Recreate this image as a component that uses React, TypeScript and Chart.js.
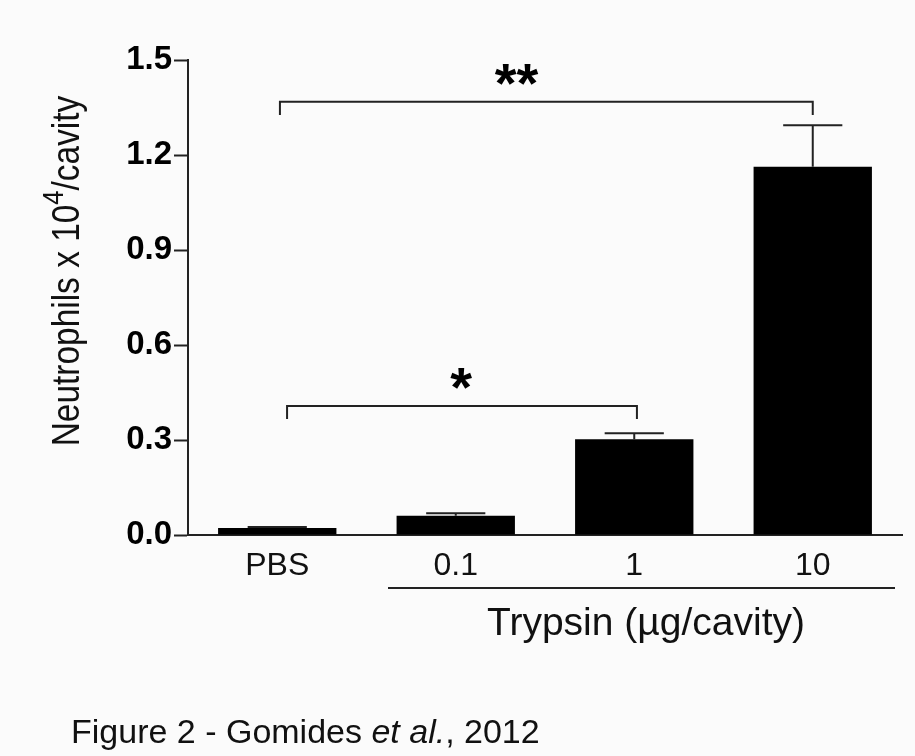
import React, { useEffect, useRef } from "react";
import { Chart, registerables } from "chart.js";

Chart.register(...registerables);

// Neutrophil counts (x 10^4 per cavity) and their SEM
const categories = ["PBS", "0.1", "1", "10"];
const neutrophils = [0.022, 0.061, 0.302, 1.163];
const sem = [0.003, 0.008, 0.019, 0.131];
const yTicks = [0, 0.3, 0.6, 0.9, 1.2, 1.5];

// Significance brackets (category positions, heights in data units)
const bracketFrom = [0.055, 0.015];
const bracketTo = [2.015, 3.0];
const bracketTop = [0.407, 1.368];
const bracketFoot = [0.366, 1.326];
const bracketLabel = ["*", "**"];
const bracketLabelX = [1.03, 1.34];
const bracketLabelY = [0.493, 1.453];

const FONT = '"Liberation Sans", Arial, Helvetica, sans-serif';
const INK = "#111111";
const LINE = "#222222";

const annotations = {
  id: "annotations",
  beforeDraw(chart: any) {
    const { ctx, width, height } = chart;
    ctx.save();
    ctx.fillStyle = "#fbfbfb";
    ctx.fillRect(0, 0, width, height);
    ctx.restore();
  },
  afterDatasetsDraw(chart: any) {
    const { ctx } = chart;
    const x = chart.scales.x;
    const y = chart.scales.y;
    const meta = chart.getDatasetMeta(0);

    ctx.save();
    ctx.strokeStyle = LINE;
    ctx.lineWidth = 2;
    ctx.lineCap = "butt";

    // error bars (upper only)
    meta.data.forEach((bar: any, i: number) => {
      const cx = bar.x;
      const top = y.getPixelForValue(neutrophils[i]);
      const cap = y.getPixelForValue(neutrophils[i] + sem[i]);
      const half = bar.width / 4;
      ctx.beginPath();
      ctx.moveTo(cx, top);
      ctx.lineTo(cx, cap);
      ctx.moveTo(cx - half, cap);
      ctx.lineTo(cx + half, cap);
      ctx.stroke();
    });

    // significance brackets
    bracketFrom.forEach((from, i) => {
      const x1 = x.getPixelForValue(from);
      const x2 = x.getPixelForValue(bracketTo[i]);
      const yt = y.getPixelForValue(bracketTop[i]);
      const yf = y.getPixelForValue(bracketFoot[i]);
      ctx.beginPath();
      ctx.moveTo(x1, yf);
      ctx.lineTo(x1, yt);
      ctx.lineTo(x2, yt);
      ctx.lineTo(x2, yf);
      ctx.stroke();

      ctx.fillStyle = "#000";
      ctx.font = `bold 56px ${FONT}`;
      ctx.textAlign = "center";
      ctx.textBaseline = "alphabetic";
      const m = ctx.measureText(bracketLabel[i]);
      const cy = y.getPixelForValue(bracketLabelY[i]);
      const base = cy + (m.actualBoundingBoxAscent - m.actualBoundingBoxDescent) / 2;
      ctx.fillText(bracketLabel[i], x.getPixelForValue(bracketLabelX[i]), base);
    });

    // group line under the trypsin doses
    ctx.beginPath();
    ctx.moveTo(388, 588);
    ctx.lineTo(895, 588);
    ctx.stroke();

    ctx.fillStyle = INK;
    ctx.textBaseline = "alphabetic";
    ctx.textAlign = "center";
    ctx.font = `39px ${FONT}`;
    ctx.fillText("Trypsin (\u00b5g/cavity)", 646, 635);

    // y-axis title with superscript (slightly condensed lettering)
    ctx.save();
    ctx.translate(79, 271);
    ctx.rotate(-Math.PI / 2);
    ctx.scale(0.88, 1);
    ctx.textAlign = "left";
    const mainFont = `38px ${FONT}`;
    const supFont = `29px ${FONT}`;
    ctx.font = mainFont;
    const p1 = "Neutrophils x 10";
    const p3 = "/cavity";
    const w1 = ctx.measureText(p1).width;
    const w3 = ctx.measureText(p3).width;
    ctx.font = supFont;
    const w2 = ctx.measureText("4").width;
    let sx = -(w1 + w2 + w3) / 2;
    ctx.font = mainFont;
    ctx.fillText(p1, sx, 0);
    sx += w1;
    ctx.font = supFont;
    ctx.fillText("4", sx, -16);
    sx += w2;
    ctx.font = mainFont;
    ctx.fillText(p3, sx, 0);
    ctx.restore();

    // caption
    ctx.textAlign = "left";
    let cx = 71;
    const parts: [string, string][] = [
      ["Figure 2 - Gomides ", `34px ${FONT}`],
      ["et al.", `italic 34px ${FONT}`],
      [", 2012", `34px ${FONT}`],
    ];
    parts.forEach(([t, f]) => {
      ctx.font = f;
      ctx.fillText(t, cx, 743);
      cx += ctx.measureText(t).width;
    });

    ctx.restore();
  },
};

export default function App() {
  const ref = useRef<HTMLCanvasElement | null>(null);

  useEffect(() => {
    if (!ref.current) return;
    const chart = new Chart(ref.current, {
      type: "bar",
      data: {
        labels: categories,
        datasets: [
          {
            data: neutrophils,
            backgroundColor: "#000000",
            borderWidth: 0,
            barPercentage: 0.663,
            categoryPercentage: 1.0,
          },
        ],
      },
      options: {
        animation: false,
        responsive: false,
        maintainAspectRatio: false,
        layout: { padding: { left: 0, right: 13, top: 60, bottom: 0 } },
        plugins: {
          legend: { display: false },
          tooltip: { enabled: false },
        },
        scales: {
          x: {
            type: "category",
            offset: true,
            grid: { display: false, drawOnChartArea: false, drawTicks: false },
            border: { display: true, color: LINE, width: 2 },
            ticks: {
              color: INK,
              font: { family: FONT, size: 32 },
              padding: 12,
              maxRotation: 0,
              autoSkip: false,
            },
            afterFit: (s: any) => {
              s.height = 221;
            },
          },
          y: {
            min: 0,
            max: 1.5,
            afterBuildTicks: (s: any) => {
              s.ticks = yTicks.map((v) => ({ value: v }));
            },
            grid: {
              drawOnChartArea: false,
              drawTicks: true,
              tickLength: 14,
              tickWidth: 2,
              tickColor: LINE,
            },
            border: { display: true, color: LINE, width: 2 },
            ticks: {
              color: "#000",
              font: { family: FONT, size: 33, weight: "bold" },
              padding: 2,
              callback: (v: any) => Number(v).toFixed(1),
            },
            afterFit: (s: any) => {
              s.width = 188;
            },
          },
        },
      },
      plugins: [annotations],
    });
    return () => chart.destroy();
  }, []);

  return (
    <div
      style={{
        position: "absolute",
        left: 0,
        top: 0,
        width: 915,
        height: 756,
        background: "#fbfbfb",
      }}
    >
      <canvas ref={ref} width={915} height={756} style={{ display: "block" }} />
    </div>
  );
}
